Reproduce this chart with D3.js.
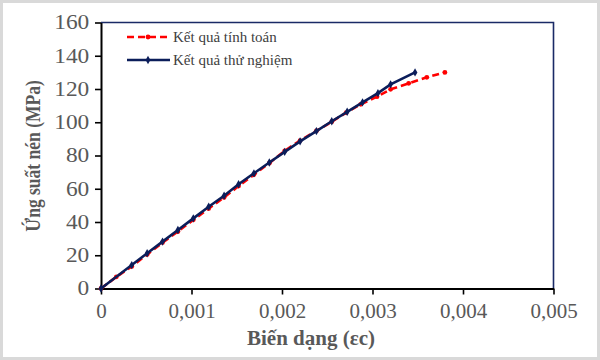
<!DOCTYPE html>
<html><head><meta charset="utf-8">
<script src="https://cdn.jsdelivr.net/npm/d3@7"></script>
<style>body{margin:0;background:#fff}svg{display:block}</style>
</head><body>
<svg id="c" width="600" height="360"></svg>
<script>
const xTicks = [0, 0.001, 0.002, 0.003, 0.004, 0.005];
const xTickLabels = ["0", "0,001", "0,002", "0,003", "0,004", "0,005"];
const yTicks = [0, 20, 40, 60, 80, 100, 120, 140, 160];
const seriesNames = ["Kết quả tính toán", "Kết quả thử nghiệm"];
// computed (red dashed)
const calcStrain = [0, 0.00017, 0.00034, 0.00051, 0.00068, 0.00085, 0.00102, 0.00119, 0.00136, 0.00152, 0.00169, 0.00186, 0.00203, 0.0022, 0.00238, 0.00255, 0.00271, 0.00287, 0.00305, 0.0032, 0.0034, 0.0036, 0.0038];
const calcStress = [0, 7.0, 13.3, 20.5, 27.6, 34.3, 41.3, 48.1, 54.8, 61.6, 68.5, 75.4, 82.8, 89.0, 94.8, 100.3, 105.8, 110.8, 115.4, 119.8, 123.4, 127.0, 130.0];
// experimental (navy solid)
const expStrain = [0, 0.00034, 0.00051, 0.00068, 0.00085, 0.00102, 0.00119, 0.00136, 0.00152, 0.00169, 0.00186, 0.00203, 0.0022, 0.00238, 0.00255, 0.00272, 0.00289, 0.00306, 0.0032, 0.00347];
const expStress = [0, 14.1, 21.2, 28.2, 35.2, 42.2, 49.2, 55.8, 62.7, 69.3, 75.8, 82.2, 88.5, 94.7, 100.6, 106.3, 112.0, 117.5, 122.8, 130.0];

const svg = d3.select("#c");
svg.append("rect").attr("x",1.5).attr("y",1.5).attr("width",597).attr("height",357)
  .attr("fill","#fff").attr("stroke","#d9d9d9").attr("stroke-width",3);

const L=101, R=553.5, T=22.5, B=288.5;
const x = d3.scaleLinear().domain([0,0.005]).range([L,R]);
const y = d3.scaleLinear().domain([0,160]).range([B,T]);

svg.append("path").attr("d",`M${L},${T}H${R}V${B}`).attr("fill","none").attr("stroke","#1a2a66").attr("stroke-width",1.6);

const font = "Liberation Serif, Times New Roman, serif";
const gx = svg.append("g").attr("transform",`translate(0,${B})`)
  .call(d3.axisBottom(x).tickValues(xTicks).tickFormat((d,i)=>xTickLabels[i]).tickSize(6).tickPadding(9).tickSizeOuter(0));
const gy = svg.append("g").attr("transform",`translate(${L},0)`)
  .call(d3.axisLeft(y).tickValues(yTicks).tickSize(6).tickPadding(4).tickSizeOuter(0));
[gx,gy].forEach(g=>{
  g.attr("font-family",font).attr("font-size",21);
  g.select(".domain").attr("stroke","#000").attr("stroke-width",2);
  g.selectAll(".tick line").attr("stroke","#000").attr("stroke-width",1.6);
  g.selectAll(".tick text").attr("fill","#595959");
});
gy.attr("font-size",20);
gy.selectAll(".tick text").attr("transform","scale(1.17,1)");

const pts = (xs,ys)=>xs.map((v,i)=>[v,ys[i]]);
const line = d3.line().x(d=>x(d[0])).y(d=>y(d[1]));
const calc = pts(calcStrain, calcStress), exp = pts(expStrain, expStress);

svg.append("path").datum(calc).attr("d",line).attr("fill","none").attr("stroke","#ff0000").attr("stroke-width",2.6).attr("stroke-dasharray","7,4");
svg.append("g").selectAll("circle").data(calc).join("circle").attr("cx",d=>x(d[0])).attr("cy",d=>y(d[1])).attr("r",2.4).attr("fill","#ff0000");
svg.append("path").datum(exp).attr("d",line).attr("fill","none").attr("stroke","#0b1d5a").attr("stroke-width",2.6);
const diamond = d3.symbol().type(d3.symbolDiamond).size(20);
svg.append("g").selectAll("path").data(exp).join("path").attr("d",diamond).attr("transform",d=>`translate(${x(d[0])},${y(d[1])})`).attr("fill","#0b1d5a");

const lg = svg.append("g").attr("font-family",font);
const leg = [{y:37, c:"#ff0000", dash:"7,4", m:"c"},{y:60, c:"#0b1d5a", dash:null, m:"d"}];
leg.forEach((d,i)=>{
  lg.append("line").attr("x1",127).attr("x2",170).attr("y1",d.y).attr("y2",d.y).attr("stroke",d.c).attr("stroke-width",2.6).attr("stroke-dasharray",d.dash);
  if(d.m==="c") lg.append("circle").attr("cx",148).attr("cy",d.y).attr("r",2.4).attr("fill",d.c);
  else lg.append("path").attr("d",diamond).attr("transform",`translate(148,${d.y})`).attr("fill",d.c);
  lg.append("text").attr("x",173).attr("y",d.y+5).text(seriesNames[i]).attr("fill","#404040").attr("font-size",15);
});

svg.append("text").attr("x",311).attr("y",345).attr("text-anchor","middle").text("Biến dạng (εc)")
  .attr("fill","#595959").attr("font-family",font).attr("font-size",21).attr("font-weight","bold");
svg.append("text").attr("transform","translate(40,156) scale(1.25,1) rotate(-90)").attr("text-anchor","middle").text("Ứng suất nén (MPa)")
  .attr("fill","#595959").attr("font-family",font).attr("font-size",17.5).attr("font-weight","bold");
</script>
</body></html>
